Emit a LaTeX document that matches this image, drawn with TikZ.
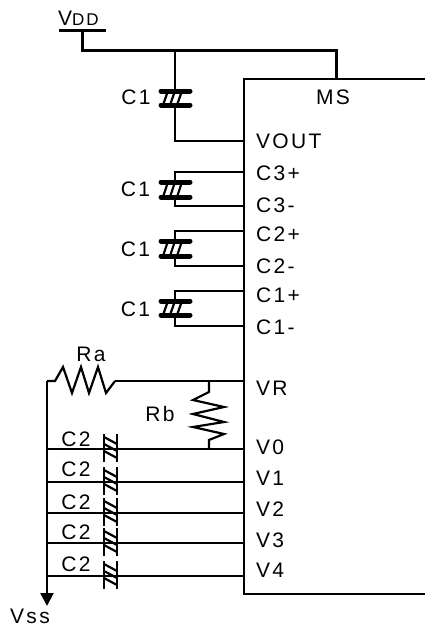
\documentclass[tikz,border=0pt]{standalone}
\usepackage{fontspec}
\setmainfont[LetterSpace=11]{Liberation Sans}
\usetikzlibrary{positioning}
\usetikzlibrary{arrows.meta}

\tikzset{
	wire/.style={line width=2.2pt},
	plate/.style={line width=5pt, line cap=round},
	hatch/.style={line width=2.2pt},
	lab/.style={font=\fontsize{21}{21}\selectfont, inner sep=0pt},
	pin/.style={lab, anchor=west}
}

\newcommand{\capflat}[3]{% centre x, upper plate y, lower plate y
	\draw [plate] (#1-14,#2) -- (#1+15,#2);
	\draw [plate] (#1-14,#3) -- (#1+15,#3);
	\foreach \dx in {-12,-5,2}
		\draw [hatch] (#1+\dx,#3) -- (#1+\dx+5,#2);
}
\newcommand{\capupright}[1]{% wire y
	\draw [wire] (104,#1-15) -- (104,#1+13);
	\draw [wire] (117,#1-15) -- (117,#1+13);
	\foreach \dy in {-12,-5,2}
		\draw [hatch] (104,#1+\dy) -- (117,#1+\dy+7);
}

\begin{document}
\begin{tikzpicture}[x=1pt, y=-1pt]
	\useasboundingbox (0,0) rectangle (425,627);

	% chip
	\coordinate (chipTR) at (425,79);
	\coordinate (chipTL) at (244,79);
	\coordinate (chipBL) at (244,594);
	\coordinate (chipBR) at (425,594);
	\draw [wire] (chipTR) -- (chipTL) -- (chipBL) -- (chipBR);
	\node [lab] (MS) at (333,97) {MS};

	% pins
	\node [pin] (VOUT) at (256,141) {VOUT};
	\node [pin] (C3p) at (256,173) {C3+};
	\node [pin] (C3m) at (256,205) {C3-};
	\node [pin] (C2p) at (256,234) {C2+};
	\node [pin] (C2m) at (256,266) {C2-};
	\node [pin] (C1p) at (256,295) {C1+};
	\node [pin] (C1m) at (256,327) {C1-};
	\node [pin] (VR) at (256,388) {VR};
	\node [pin] (V0) at (256,447) {V0};
	\node [pin] (V1) at (256,478) {V1};
	\node [pin] (V2) at (256,509) {V2};
	\node [pin] (V3) at (256,540) {V3};
	\node [pin] (V4) at (256,570) {V4};

	% supply
	\coordinate (vddL) at (59,30.5);
	\coordinate (vddR) at (106,30.5);
	\coordinate (vddS) at (82.5,30.5);
	\coordinate (vddC) at (82.5,50.5);
	\coordinate (vddT) at (336.5,50.5);
	\coordinate (vddB) at (336.5,79);
	\draw [wire] (vddL) -- (vddR);
	\draw [wire] (vddS) -- (vddC) -- (vddT) -- (vddB);
	\node [lab, anchor=base west] (VDD) at (58,25) {V{\fontsize{17}{17}\selectfont DD}};

	% pump capacitors
	\coordinate (topA) at (175,50.5);
	\coordinate (topB) at (175,91);
	\coordinate (topC) at (175,105);
	\coordinate (topD) at (175,141);
	\coordinate (topE) at (244,141);
	\draw [wire] (topA) -- (topB);
	\draw [wire] (topC) -- (topD) -- (topE);
	\capflat{175}{91}{105}
	\node [lab] (C1a) at (136,97) {C1};

	\foreach \yt/\yu/\yl/\yb/\ylab/\nm in {172/182/197/206/189/b, 231/241/256/266/249/c, 291/301/315/326/309/d} {
		\coordinate (p\nm) at (244,\yt);
		\coordinate (q\nm) at (175,\yt);
		\coordinate (r\nm) at (175,\yu);
		\coordinate (s\nm) at (175,\yl);
		\coordinate (t\nm) at (175,\yb);
		\coordinate (u\nm) at (244,\yb);
		\draw [wire] (p\nm) -- (q\nm) -- (r\nm);
		\draw [wire] (s\nm) -- (t\nm) -- (u\nm);
		\capflat{175}{\yu}{\yl}
		\node [lab] (C1\nm) at (135.5,\ylab) {C1};
	}

	% divider
	\coordinate (raA) at (55,381);
	\coordinate (raB) at (115,381);
	\coordinate (vrW) at (244,381);
	\coordinate (rbA) at (209,381);
	\coordinate (rbB) at (209,392);
	\coordinate (rbC) at (209,440);
	\coordinate (rbD) at (209,449);
	\coordinate (rail) at (47,381);
	\coordinate (railEnd) at (47,606);
	\draw [wire] (raB) -- (vrW);
	\draw [wire] (rail) -- (raA) -- (63,367) -- (72,393) -- (81,367) -- (89,393) -- (98,367) -- (106,393) -- (raB);
	\draw [wire] (rbA) -- (rbB) -- (193,400) -- (224,407) -- (193,414) -- (224,422) -- (193,427) -- (224,434) -- (rbC) -- (rbD);
	\draw [wire, -{Triangle[length=13pt,width=13pt]}] (rail) -- (railEnd);
	\node [lab] (Ra) at (91,354) {Ra};
	\node [lab] (Rb) at (160,414) {Rb};
	\node [lab, anchor=base west] (VSS) at (10,623) {Vss};

	% filter capacitors
	\foreach \y/\ylab/\nm in {449/446/a, 482/476.5/b, 513/509.5/c, 543/539.5/d, 576/571.5/e} {
		\coordinate (fL\nm) at (48,\y);
		\coordinate (fR\nm) at (244,\y);
		\draw [wire] (fL\nm) -- (fR\nm);
		\capupright{\y}
		\node [lab, anchor=base] (C2\nm) at (76,\ylab) {C2};
	}
\end{tikzpicture}
\end{document}
